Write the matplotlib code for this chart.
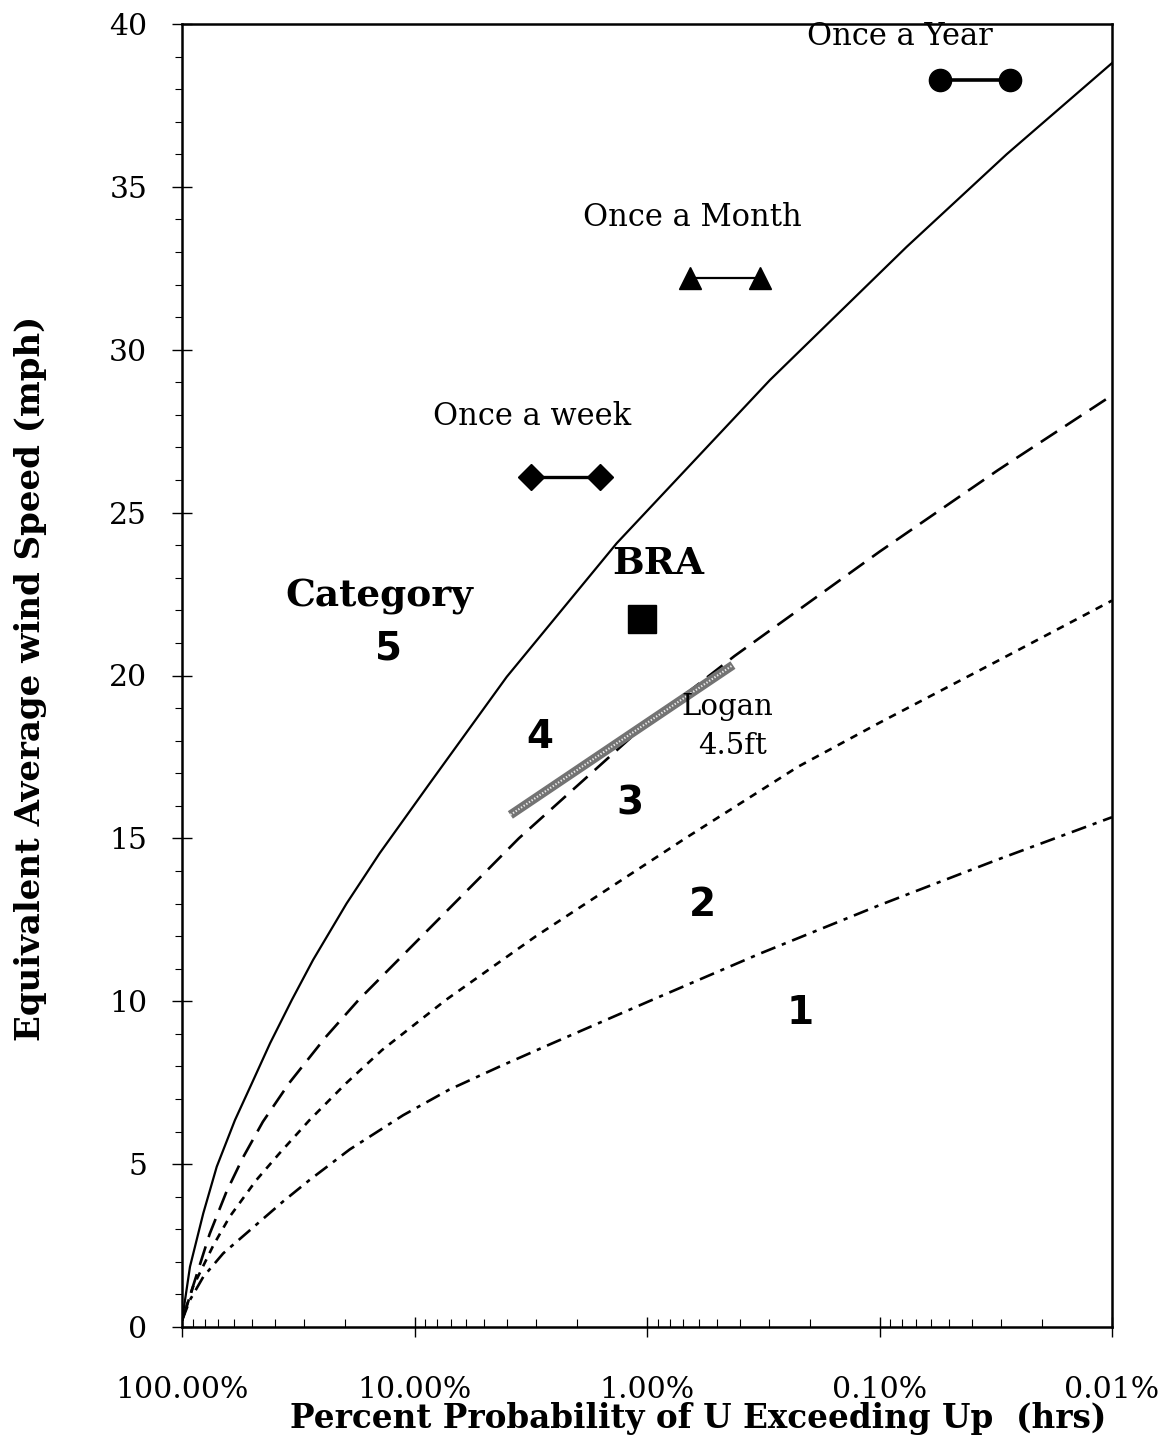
import numpy as np
import matplotlib.pyplot as plt
from matplotlib.ticker import FixedLocator, LogLocator, MultipleLocator, NullFormatter

plt.rcParams['lines.scale_dashes'] = False

# exceedance probability (%) and equivalent wind speed (mph) for each category boundary
p_cat5 = [100, 92.4, 81.0, 70.9, 59.2, 50.3, 41.8, 33.7, 27.3, 19.6, 14.1, 8.58, 4.01, 1.35, 0.296, 0.0764, 0.0284, 0.01]
u_cat5 = [0.2, 1.85, 3.49, 4.92, 6.35, 7.45, 8.71, 10.04, 11.27, 13.0, 14.55, 16.7, 19.96, 24.06, 29.07, 33.16, 36.0, 38.8]

p_cat4 = [100, 86.5, 76.1, 64.4, 54.7, 44.9, 34.5, 24.1, 17.4, 3.56, 1.09, 0.42, 0.1, 0.031, 0.01]
u_cat4 = [0.2, 1.6, 2.85, 4.15, 5.2, 6.3, 7.5, 8.9, 10.04, 15.0, 18.3, 20.6, 23.8, 26.3, 28.6]

p_cat3 = [100, 89.6, 73.4, 62.3, 47.9, 38.1, 28.3, 19.7, 13.8, 7.33, 3.0, 0.685, 0.224, 0.1, 0.031, 0.01]
u_cat3 = [0.2, 1.24, 2.5, 3.39, 4.51, 5.33, 6.35, 7.48, 8.5, 10.04, 12.0, 15.0, 17.2, 18.55, 20.45, 22.3]

p_cat2 = [100, 92.4, 81.0, 66.5, 52.8, 36.8, 28.3, 19.0, 11.2, 7.12, 4.29, 2.61, 0.98, 0.33, 0.1, 0.031, 0.01]
u_cat2 = [0.2, 0.83, 1.54, 2.26, 2.88, 3.85, 4.51, 5.45, 6.5, 7.28, 8.0, 8.68, 10.0, 11.45, 12.95, 14.35, 15.65]

# recurrence markers
week_p = [3.15, 1.59]
week_u = [26.1, 26.1]
month_p = [0.65, 0.325]
month_u = [32.2, 32.2]
year_p = [0.0548, 0.0275]
year_u = [38.28, 38.28]
bra_p = [1.05]
bra_u = [21.73]
logan_p = [3.87, 0.427]
logan_u = [15.72, 20.32]

xticks = [100, 10, 1, 0.1, 0.01]
xlabels = ['100.00%', '10.00%', '1.00%', '0.10%', '0.01%']

fig = plt.figure(figsize=(11.7, 14.48), dpi=100)
ax = fig.add_axes([182 / 1170, 121 / 1448, 930 / 1170, 1303 / 1448])

ax.plot(p_cat5, u_cat5, color='black', lw=1.6)
ax.plot(p_cat4, u_cat4, color='black', lw=1.9, dashes=(14, 7))
ax.plot(p_cat3, u_cat3, color='black', lw=1.9, dashes=(5.5, 5))
ax.plot(p_cat2, u_cat2, color='black', lw=1.9, dashes=(11, 5, 3, 5))

# Logan 4.5ft band
ax.plot(logan_p, logan_u, color='0.45', lw=6.5, solid_capstyle='butt')
ax.plot(logan_p, logan_u, color='white', lw=1.5, dashes=(1, 1.3), alpha=0.85)

ax.plot(week_p, week_u, color='black', lw=2.4, marker='D', ms=13)
ax.plot(month_p, month_u, color='black', lw=1.6, marker='^', ms=16)
ax.plot(year_p, year_u, color='black', lw=2.6, marker='o', ms=16)
ax.plot(bra_p, bra_u, color='black', marker='s', ms=20, ls='none')

ax.set_xscale('log')
ax.set_xlim(100, 0.01)
ax.set_ylim(0, 40)

ax.xaxis.set_major_locator(FixedLocator(xticks))
ax.set_xticklabels(xlabels)
ax.xaxis.set_minor_locator(LogLocator(base=10, subs=np.arange(2, 10)))
ax.xaxis.set_minor_formatter(NullFormatter())
ax.yaxis.set_major_locator(MultipleLocator(5))
ax.yaxis.set_minor_locator(MultipleLocator(1))

ax.tick_params(axis='x', which='major', direction='inout', length=14, width=1, pad=28,
               labelsize=21.5, labelfontfamily='DejaVu Serif')
ax.tick_params(axis='x', which='minor', direction='in', length=6, width=0.8)
ax.tick_params(axis='y', which='major', direction='inout', length=14, width=1, pad=18,
               labelsize=21.5, labelfontfamily='DejaVu Serif')
ax.tick_params(axis='y', which='minor', direction='out', length=5, width=0.8)
for s in ax.spines.values():
    s.set_linewidth(1.8)

serif = 'DejaVu Serif'
ax.set_xlabel('Percent Probability of U Exceeding Up  (hrs)', fontsize=23.5,
              fontweight='bold', family=serif, va='center')
ax.xaxis.set_label_coords(0.555, -0.0705)
ax.set_ylabel('Equivalent Average wind Speed (mph)', fontsize=24.5,
              fontweight='bold', family=serif, va='center')
ax.yaxis.set_label_coords(-0.163, 0.498)

ax.text(3.12, 27.94, 'Once a week', fontsize=22, family=serif, ha='center', va='center')
ax.text(0.64, 34.05, 'Once a Month', fontsize=22, family=serif, ha='center', va='center')
ax.text(0.0817, 39.62, 'Once a Year', fontsize=22, family=serif, ha='center', va='center')
ax.text(0.897, 23.44, 'BRA', fontsize=27, family=serif, fontweight='bold', ha='center', va='center')
ax.text(14.1, 22.42, 'Category', fontsize=27, family=serif, fontweight='bold', ha='center', va='center')
ax.text(0.453, 19.02, 'Logan', fontsize=21, family=serif, ha='center', va='center')
ax.text(0.43, 17.85, '4.5ft', fontsize=21, family=serif, ha='center', va='center')

for txt, px, uy in [('5', 12.9, 20.83), ('4', 2.89, 18.1), ('3', 1.18, 16.07),
                    ('2', 0.58, 12.94), ('1', 0.22, 9.63)]:
    ax.text(px, uy, txt, fontsize=28, fontweight='bold', ha='center', va='center')

fig.savefig('out.png', dpi=100, facecolor='white')
